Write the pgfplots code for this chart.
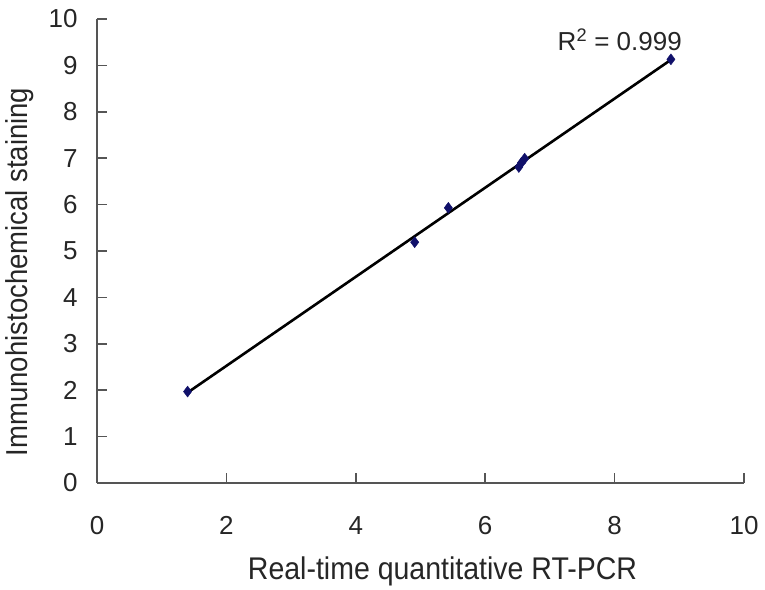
\documentclass[border=0pt]{standalone}
\usepackage{fontspec}
\setmainfont{Liberation Sans}
\usepackage{graphicx}
\usepackage{pgfplots}
\usepackage{pgfplotstable}
\pgfplotsset{compat=1.18}
\definecolor{axgray}{HTML}{555555}
\definecolor{navy}{HTML}{10106A}
\pgfplotstableread{
x y
1.40 1.97
4.91 5.19
5.43 5.93
6.52 6.81
6.56 6.90
6.61 6.99
8.87 9.13
}\datatab
\begin{document}
\begin{tikzpicture}
\begin{axis}[
  name=ax,
  scale only axis, width=647pt, height=464pt,
  xmin=0, xmax=10, ymin=0, ymax=10,
  axis x line*=bottom, axis y line*=left,
  axis line style={axgray, line width=1.6pt, -},
  xtick={0,2,...,10}, ytick={0,1,...,10},
  tick align=inside, major tick length=10pt,
  tick style={axgray, line width=1.6pt},
  /pgf/number format/assume math mode=true,
  tick label style={font=\fontsize{26}{28}\selectfont, text=black!85},
  xticklabel style={yshift=-30pt},
  yticklabel style={xshift=-16pt},
  label style={font=\fontsize{27.5}{30}\selectfont, text=black!85},
  xlabel={\scalebox{1}[1.1]{Real-time quantitative RT-PCR}},
  ylabel={\scalebox{1}[1.1]{Immunohistochemical staining}},
  xlabel style={at={(axis description cs:0.534,-0.19)}, anchor=center, font=\fontsize{28.5}{30}\selectfont},
  ylabel style={at={(axis description cs:-0.119,0.455)}, anchor=center},
  clip=false,
]
\addplot[black, line width=2.6pt] table[x=x, y={create col/linear regression={y=y}}] {\datatab};
\addplot[only marks, mark=diamond*, mark size=5.5pt, navy, mark options={fill=navy, draw=navy}] table[x=x,y=y] {\datatab};
\node[font=\fontsize{26}{28}\selectfont, text=black!85] at (axis cs:8.08,9.55) {R\textsuperscript{2} = 0.999};
\end{axis}
\path[use as bounding box] ([shift={(-97pt,-105pt)}]ax.south west) rectangle ([shift={(21pt,19pt)}]ax.north east);
\end{tikzpicture}
\end{document}
